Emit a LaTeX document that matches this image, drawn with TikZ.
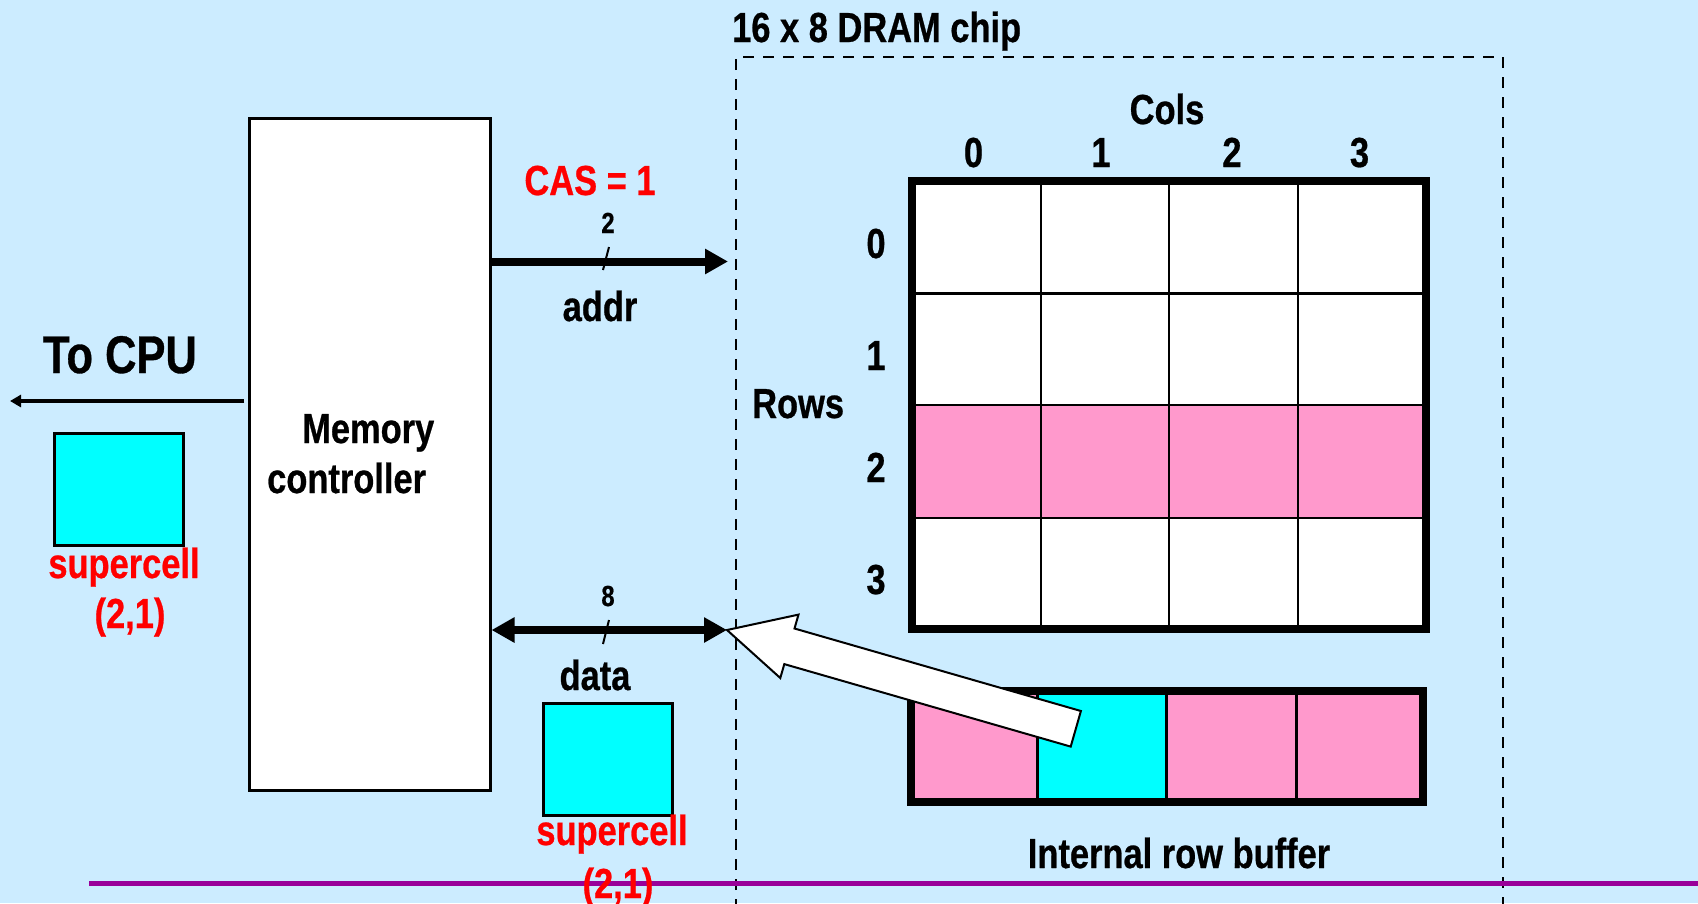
\documentclass[tikz,border=0pt]{standalone}
\usepackage{fontspec}
\setmainfont{Liberation Sans}[FakeStretch=0.82, BoldFeatures={FakeStretch=0.82, FakeBold=0.6}]
\usetikzlibrary{arrows.meta}
\definecolor{bg}{RGB}{204,236,255}
\definecolor{pinkc}{RGB}{255,153,204}
\definecolor{cyanc}{RGB}{0,255,255}
\definecolor{purp}{RGB}{153,0,153}
\definecolor{redt}{RGB}{255,0,0}
\begin{document}
\begin{tikzpicture}[x=1pt,y=-1pt,
  txt/.style={font=\fontsize{42}{50}\selectfont\bfseries, inner sep=0pt, anchor=base},
  small/.style={font=\fontsize{29}{34}\selectfont\bfseries, inner sep=0pt, anchor=base},
  big/.style={font=\fontsize{53}{60}\selectfont\bfseries, inner sep=0pt, anchor=base},
  redtxt/.style={txt, text=redt},
  bus/.style={line width=8pt, >={Triangle[length=23pt,width=24pt]}},
  supercellbox/.style={draw, line width=2.5pt, fill=cyanc, minimum width=129pt, minimum height=112pt, inner sep=0pt, anchor=north west},
  chipbox/.style={draw, line width=2pt, dash pattern=on 11pt off 9pt},
  thin/.style={line width=2.5pt},
  thick/.style={line width=8pt}]
\fill[bg] (0,0) rectangle (1698,903);
\useasboundingbox (0,0) rectangle (1698,903);
\clip (0,0) rectangle (1698,903);

% DRAM chip outline
\draw[chipbox] (736,950) -- (736,57) -- (1503,57) -- (1503,950);
\node[txt, anchor=base west] (title) at (732,42) {16 x 8 DRAM chip};

% memory controller
\node[draw, line width=2.5pt, fill=white, minimum width=241pt, minimum height=672pt, inner sep=0pt, anchor=north west] (mc) at (248,117) {};
\node[txt, anchor=base west] (mem1) at (302,443) {Memory};
\node[txt, anchor=base west] (mem2) at (267,493) {controller};

% buses
\coordinate (addrend) at (728,261.5);
\coordinate (dataend) at (727,630);
\coordinate (cpu) at (10,401);
\draw[bus, ->] (mc.east |- addrend) -- (addrend);
\draw[bus, <->] (mc.east |- dataend) -- (dataend);
\draw[line width=4.5pt, -{Triangle[length=11pt,width=12pt]}, shorten <=4pt] (mc.west |- cpu) -- (cpu);
\draw[line width=2pt] (603,270) -- (609,247);
\draw[line width=2pt] (603,644) -- (609,620);

% DRAM array
\fill[white] (911.5,181) rectangle (1425.5,629);
\fill[pinkc] (911.5,405) rectangle (1425.5,518);
\foreach \x in {1041,1169,1298} \draw[thin] (\x,181) -- (\x,629);
\foreach \y in {293.5,405,518} \draw[thin] (911.5,\y) -- (1425.5,\y);
\draw[thick] (911.5,181) rectangle (1425.5,629);

% row buffer
\fill[pinkc] (910.5,691) rectangle (1422.5,802);
\fill[cyanc] (1037.5,691) rectangle (1166.5,802);
\foreach \x in {1037.5,1166.5,1296.5} \draw[line width=3pt] (\x,691) -- (\x,802);
\draw[thick] (910.5,691) rectangle (1422.5,802);

% supercells
\node[supercellbox] (scL) at (53,432) {};
\node[supercellbox] (scB) at (542,702) {};

% block arrow from row buffer to data bus
\draw[line width=2pt, fill=white, line join=miter] (dataend) -- (798.5,614.6) -- (794.5,628.5) -- (1080.9,711.0) -- (1070.7,746.6) -- (784.3,664.1) -- (780.3,678.0) -- cycle;

% purple rule
\draw[purp, line width=5pt] (89,883) -- (1698,883);

% labels
\node[txt] (cols) at (1167,124) {Cols};
\node[txt] (c0) at (973.5,167) {0};
\node[txt] (c1) at (1101,167) {1};
\node[txt] (c2) at (1232,167) {2};
\node[txt] (c3) at (1359.5,167) {3};
\node[txt] (r0) at (876,258) {0};
\node[txt] (r1) at (876,370) {1};
\node[txt] (r2) at (876,482) {2};
\node[txt] (r3) at (876,594) {3};
\node[txt, anchor=base west] (rows) at (752,418) {Rows};
\node[txt] (irb) at (1179,868) {Internal row buffer};
\node[redtxt] (cas) at (590,195) {CAS = 1};
\node[small] (w2) at (608,233) {2};
\node[txt] (addr) at (600,321) {addr};
\node[small] (w8) at (608,606) {8};
\node[txt] (data) at (595,690) {data};
\node[big] (tocpu) at (120,373) {To CPU};
\node[redtxt] (sl1) at (124,578) {supercell};
\node[redtxt] (sl2) at (130,628) {(2,1)};
\node[redtxt] (sb1) at (612,845) {supercell};
\node[redtxt] (sb2) at (618,898) {(2,1)};
\end{tikzpicture}
\end{document}
